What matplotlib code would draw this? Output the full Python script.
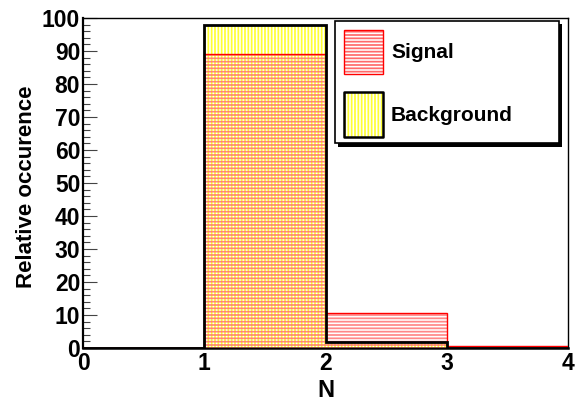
import matplotlib
matplotlib.use("Agg")
import matplotlib.pyplot as plt
from matplotlib.patches import Rectangle
from matplotlib.transforms import Affine2D
import numpy as np

plt.rcParams['font.family'] = ['Liberation Sans', 'DejaVu Sans']
plt.rcParams['hatch.linewidth'] = 1.25

# ---- data ----
bin_edges = [0, 1, 2, 3, 4]
signal = [0.0, 89.1, 10.6, 0.6]
background = [0.0, 97.9, 1.8, 0.0]
x_ticks = [0, 1, 2, 3, 4]
y_ticks = [0, 10, 20, 30, 40, 50, 60, 70, 80, 90, 100]
labels = ["Signal", "Background"]

sig_hatch_col = "#ff6a6a"
sig_edge_col = "#ff0000"
bkg_hatch_col = "#ffff33"
bkg_edge_col = "#000000"

W, H = 576, 403
fig = plt.figure(figsize=(W / 100, H / 100), dpi=100)
L, R, T, B = 83, 568, 18, 348
ax = fig.add_axes([L / W, 1 - B / H, (R - L) / W, (B - T) / H])

left = np.array(bin_edges[:-1])
widths = np.diff(bin_edges)

# background hatch
ax.bar(left, background, width=widths, align='edge', fill=False,
       hatch='|||||', edgecolor=bkg_hatch_col, linewidth=0, zorder=2)
# signal hatch (semi-transparent on top, giving the checkered overlap)
ax.bar(left, signal, width=widths, align='edge', fill=False,
       hatch='-----', edgecolor=sig_hatch_col, linewidth=0, alpha=0.8, zorder=3)
# outlines
ax.stairs(signal, bin_edges, color=sig_edge_col, linewidth=1.0, zorder=4)
ax.stairs(background, bin_edges, color=bkg_edge_col, linewidth=2.0, zorder=5)

ax.set_xlim(0, 4)
ax.set_ylim(0, 100)
ax.set_xticks(x_ticks)
ax.set_xticklabels([str(v) for v in x_ticks])
ax.set_yticks(y_ticks)
ax.set_yticklabels([str(v) for v in y_ticks])
ax.set_yticks(np.arange(0, 101, 2), minor=True)

ax.tick_params(axis='y', which='major', direction='in', length=10, width=0.8,
               color='#444444', labelsize=16.5, pad=2)
ax.tick_params(axis='y', which='minor', direction='in', length=5, width=0.8,
               color='#444444')
ax.tick_params(axis='x', which='both', length=0, labelsize=16.5, pad=3)
for lab in ax.get_xticklabels() + ax.get_yticklabels():
    lab.set_fontweight('bold')

ax.spines['left'].set_linewidth(1.6)
ax.spines['bottom'].set_linewidth(1.8)
ax.spines['top'].set_linewidth(1.0)
ax.spines['right'].set_linewidth(1.0)

ax.set_xlabel("N", fontsize=17, fontweight='bold', va='center')
ax.xaxis.set_label_coords(0.5, -0.128)
ax.set_ylabel("Relative occurence", fontsize=16, fontweight='bold', va='center')
ax.yaxis.set_label_coords(-0.1155, 0.49)

# ---- legend (drawn in figure pixel coordinates) ----
tp = Affine2D().scale(1 / W, -1 / H).translate(0, 1) + fig.transFigure

def rect(x0, y0, x1, y1, **kw):
    r = Rectangle((x0, y1), x1 - x0, y0 - y1, transform=tp, **kw)
    fig.add_artist(r)
    return r

rect(338, 24, 562, 147, facecolor='black', edgecolor='none', zorder=10)
rect(335, 21, 559, 143, facecolor='white', edgecolor='black', linewidth=1.2, zorder=11)
rect(343.5, 30, 382.5, 74, fill=False, hatch='-----', edgecolor=sig_hatch_col,
     linewidth=0, zorder=12)
rect(343.5, 30, 382.5, 74, fill=False, edgecolor=sig_edge_col, linewidth=1.0, zorder=13)
rect(343.5, 92, 382.5, 137, fill=False, hatch='|||||', edgecolor=bkg_hatch_col,
     linewidth=0, zorder=12)
rect(343.5, 92, 382.5, 137, fill=False, edgecolor=bkg_edge_col, linewidth=1.8,
     joinstyle='round', zorder=13)
fig.text(391 / W, 1 - 58.5 / H, labels[0], fontsize=15, fontweight='bold',
         va='baseline', ha='left', zorder=14)
fig.text(391 / W, 1 - 121 / H, labels[1], fontsize=15, fontweight='bold',
         va='baseline', ha='left', zorder=14)

fig.savefig("out.png", dpi=100)
